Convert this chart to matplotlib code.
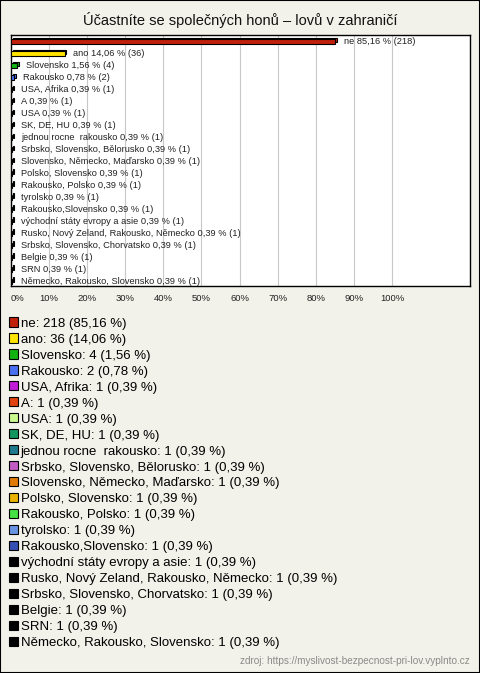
import matplotlib
matplotlib.use("Agg")
import matplotlib.pyplot as plt
from matplotlib.patches import Patch, Rectangle

plt.rcParams['font.family'] = ['Liberation Sans', 'DejaVu Sans']

title = "Účastníte se společných honů – lovů v zahraničí"
source = "zdroj: https://myslivost-bezpecnost-pri-lov.vyplnto.cz"

odpovedi = ["ne", "ano", "Slovensko", "Rakousko", "USA, Afrika", "A", "USA",
            "SK, DE, HU", "jednou rocne  rakousko", "Srbsko, Slovensko, Bělorusko",
            "Slovensko, Německo, Maďarsko", "Polsko, Slovensko", "Rakousko, Polsko",
            "tyrolsko", "Rakousko,Slovensko", "východní státy evropy a asie",
            "Rusko, Nový Zeland, Rakousko, Německo", "Srbsko, Slovensko, Chorvatsko",
            "Belgie", "SRN", "Německo, Rakousko, Slovensko"]
pocty = [218, 36, 4, 2, 1, 1, 1, 1, 1, 1, 1, 1, 1, 1, 1, 1, 1, 1, 1, 1, 1]
procenta = [85.16, 14.06, 1.56, 0.78, 0.39, 0.39, 0.39, 0.39, 0.39, 0.39, 0.39,
            0.39, 0.39, 0.39, 0.39, 0.39, 0.39, 0.39, 0.39, 0.39, 0.39]
barvy = ["#c0200c", "#ffe400", "#12b412", "#4a6ff0", "#c21cd6", "#e0420e",
         "#c8f88e", "#12965e", "#1f7a8c", "#c05cc6", "#e27a08", "#e8b400",
         "#44e044", "#6a94e2", "#3450b2", "#000000", "#000000", "#000000",
         "#000000", "#000000", "#000000"]
x_ticks = [0, 10, 20, 30, 40, 50, 60, 70, 80, 90, 100]

W, H = 480, 673
bg = "#f3f2ea"

def pct(v):
    return f"{v:.2f}".replace(".", ",") + " %"

fig = plt.figure(figsize=(W / 100, H / 100), dpi=100, facecolor=bg)
fig.patches.append(Rectangle((0, 0), 1, 1, transform=fig.transFigure, fill=False,
                             edgecolor="black", linewidth=1.5))

fig.text(0.5, 1 - 20 / H, title, ha="center", va="center", fontsize=10.5, color="#111")

ax = fig.add_axes([11 / W, 1 - 286 / H, 459 / W, 251 / H])
ax.set_facecolor("white")
ax.set_xlim(0, 120.5)
ax.set_ylim(20.36, -0.56)
for s in ax.spines.values():
    s.set_linewidth(1)
    s.set_color("black")

for t in x_ticks:
    ax.axvline(t, color="#c8c8c8", linewidth=0.8, zorder=0)

y = list(range(len(odpovedi)))
dx, dy = 0.5, 0.15
# "3D" back face, then front face
ax.barh([i - dy for i in y], procenta, left=dx, height=0.4, color=barvy,
        edgecolor="black", linewidth=0.8, zorder=2)
ax.barh(y, procenta, height=0.4, color=barvy, edgecolor="black", linewidth=0.8, zorder=3)

for i in y:
    ax.annotate(f"{odpovedi[i]} {pct(procenta[i])} ({pocty[i]})", (procenta[i] + dx, i),
                xytext=(5, 0), textcoords="offset points", va="center", ha="left",
                fontsize=6.7, color="#222")

ax.set_yticks([])
ax.set_xticks(x_ticks)
ax.set_xticklabels([f"{t}%" for t in x_ticks], fontsize=6.8, color="#222")
ax.tick_params(axis="x", length=0, pad=6)
ax.get_xticklabels()[0].set_ha("left")

handles = [Patch(facecolor=c, edgecolor="black", linewidth=0.8) for c in barvy]
labels = [f"{o}: {n} ({pct(p)})" for o, n, p in zip(odpovedi, pocty, procenta)]
fig.legend(handles, labels, loc="upper left", bbox_to_anchor=(9 / W, 1 - 317.5 / H),
           frameon=False, fontsize=9.5, handlelength=0.68, handleheight=0.68,
           handletextpad=0.2, labelspacing=0.29, borderpad=0, borderaxespad=0)

fig.text(1 - 10 / W, 1 - 661 / H, source, ha="right", va="center", fontsize=7.2, color="#8a8a8a")

fig.savefig("out.png", dpi=100, facecolor=bg)
